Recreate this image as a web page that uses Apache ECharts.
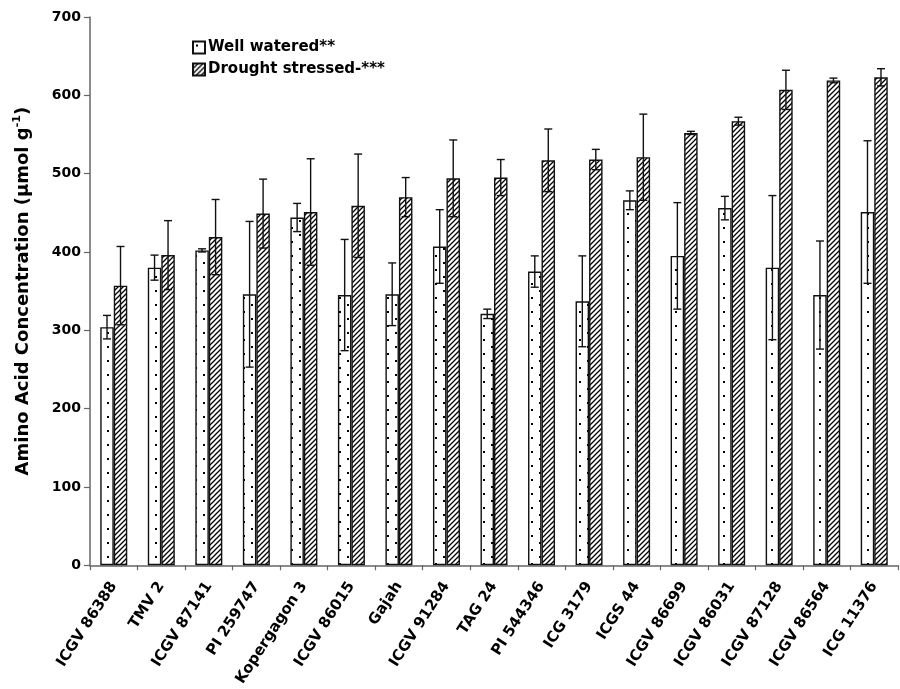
<!DOCTYPE html>
<html>
<head>
<meta charset="utf-8">
<script src="https://cdn.jsdelivr.net/npm/echarts@6/dist/echarts.min.js"></script>
<style>
html,body{margin:0;padding:0;background:#fff;}
#chart{width:900px;height:689px;}
</style>
</head>
<body>
<div id="chart"></div>
<script>
const categories = ['ICGV 86388','TMV 2','ICGV 87141','PI 259747','Kopergagon 3','ICGV 86015','Gajah','ICGV 91284','TAG 24','PI 544346','ICG 3179','ICGS 44','ICGV 86699','ICGV 86031','ICGV 87128','ICGV 86564','ICG 11376'];
const wellWatered    = [304,380,402,346,444,345,346,407,321,375,337,466,395,456,380,345,451];
const wellWateredErr = [15,16,2,93,18,71,40,47,6,20,58,12,68,15,92,69,91];
const drought        = [357,396,419,449,451,459,470,494,495,517,518,521,552,567,607,619,623];
const droughtErr     = [50,44,48,44,68,66,25,49,23,40,13,55,2,5,25,3,11];
const yTicks = [0,100,200,300,400,500,600,700];

const FONT = 'DejaVu Sans';

function dotPattern(){
  const c = document.createElement('canvas'); c.width = 16; c.height = 14;
  const g = c.getContext('2d');
  g.fillStyle = '#fff'; g.fillRect(0,0,16,14);
  g.fillStyle = '#000';
  g.fillRect(3,3,2,2); g.fillRect(11,10,2,2);
  return c;
}
function hatchPattern(){
  const T = 5;
  const c = document.createElement('canvas'); c.width = T; c.height = T;
  const g = c.getContext('2d');
  g.fillStyle = '#fff'; g.fillRect(0,0,T,T);
  g.strokeStyle = '#000'; g.lineWidth = 1.3;
  g.beginPath();
  g.moveTo(-1, T+1); g.lineTo(T+1, -1);
  g.moveTo(-1, 1); g.lineTo(1, -1);
  g.moveTo(T-1, T+1); g.lineTo(T+1, T-1);
  g.stroke();
  return c;
}

const BAR_W = 13.5;

function errData(means, errs){
  return means.map((m,i)=>[i, m-errs[i], m+errs[i]]);
}
function errSeries(means, errs, off){
  return {
    type: 'custom',
    z: 10,
    silent: true,
    encode: {x: 0, y: [1,2]},
    data: errData(means, errs),
    renderItem: function(params, api){
      const i = api.value(0);
      const top = api.coord([i, api.value(2)]);
      const bot = api.coord([i, api.value(1)]);
      const x = top[0] + off;
      const cap = 4;
      const st = {stroke: '#111', lineWidth: 1.4};
      return {type:'group', children:[
        {type:'line', shape:{x1:x, y1:top[1], x2:x, y2:bot[1]}, style: st},
        {type:'line', shape:{x1:x-cap, y1:top[1], x2:x+cap, y2:top[1]}, style: st},
        {type:'line', shape:{x1:x-cap, y1:bot[1], x2:x+cap, y2:bot[1]}, style: st}
      ]};
    }
  };
}

const chart = echarts.init(document.getElementById('chart'), null, {renderer:'canvas'});
chart.setOption({
  backgroundColor: '#fff',
  animation: false,
  grid: {left: 90, right: 2, top: 17, bottom: 123, containLabel: false},
  legend: {
    show: true,
    orient: 'vertical',
    left: 187, top: 35,
    itemWidth: 12, itemHeight: 12, itemGap: 7,
    icon: 'rect',
    data: ['Well watered**', 'Drought stressed-***'],
    textStyle: {fontFamily: FONT, fontWeight: 'bold', fontSize: 15, color: '#000', padding: [0,0,0,-2]}
  },
  xAxis: {
    type: 'category',
    data: categories,
    axisLine: {lineStyle: {color: '#666', width: 1.5}},
    axisTick: {show: true, length: 5, lineStyle: {color: '#666', width: 1.2}},
    axisLabel: {rotate: 57, interval: 0, margin: 18, fontFamily: FONT, fontWeight: 'bold', fontSize: 15, color: '#000'},
    splitLine: {show: false}
  },
  yAxis: {
    type: 'value',
    min: 0, max: 700, interval: 100,
    name: '{n|Amino Acid Concentration (µmol g}{s|-1}{n|)}',
    nameLocation: 'middle',
    nameGap: 56,
    nameTextStyle: {
      rich: {
        n: {fontFamily: FONT, fontWeight: 'bold', fontSize: 18, color: '#000', lineHeight: 22},
        s: {fontFamily: FONT, fontWeight: 'bold', fontSize: 11, color: '#000', verticalAlign: 'top', lineHeight: 22}
      }
    },
    axisLine: {show: true, lineStyle: {color: '#666', width: 1.5}},
    axisTick: {show: true, length: 6, lineStyle: {color: '#666', width: 1.2}},
    axisLabel: {margin: 9, fontFamily: FONT, fontWeight: 'bold', fontSize: 14, color: '#000',
      formatter: v => yTicks.includes(v) ? String(v) : ''},
    splitLine: {show: false}
  },
  series: [
    {
      name: 'Well watered**', type: 'bar', data: wellWatered,
      barWidth: BAR_W, barGap: '0%',
      itemStyle: {color: {image: dotPattern(), repeat: 'repeat'}, borderColor: '#111', borderWidth: 1.4}
    },
    {
      name: 'Drought stressed-***', type: 'bar', data: drought,
      barWidth: BAR_W, barGap: '0%',
      itemStyle: {color: {image: hatchPattern(), repeat: 'repeat'}, borderColor: '#111', borderWidth: 1.4}
    },
    errSeries(wellWatered, wellWateredErr, -BAR_W/2),
    errSeries(drought, droughtErr, BAR_W/2)
  ]
});
</script>
</body>
</html>
